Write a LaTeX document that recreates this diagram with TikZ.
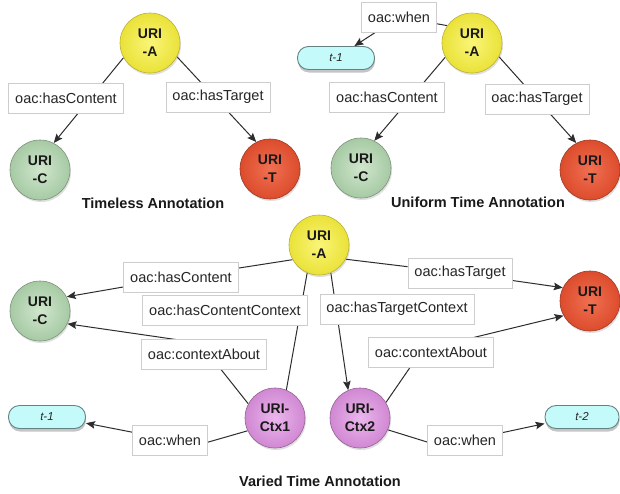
\documentclass[tikz,border=0pt]{standalone}
\usepackage{fontspec}
\setmainfont{Liberation Sans}
\usetikzlibrary{arrows.meta,shadows,backgrounds}
\definecolor{yel}{RGB}{234,226,56}
\definecolor{yelin}{RGB}{250,245,120}
\definecolor{yelbd}{RGB}{185,175,60}
\definecolor{grn}{RGB}{166,202,164}
\definecolor{grnin}{RGB}{208,230,204}
\definecolor{grnbd}{RGB}{125,145,125}
\definecolor{redc}{RGB}{220,76,44}
\definecolor{redin}{RGB}{240,112,82}
\definecolor{redbd}{RGB}{155,60,40}
\definecolor{pur}{RGB}{208,136,210}
\definecolor{purin}{RGB}{236,182,238}
\definecolor{purbd}{RGB}{145,100,145}
\definecolor{cyanc}{RGB}{196,250,250}
\definecolor{cyanbd}{RGB}{100,130,130}
\definecolor{lbd}{RGB}{205,205,205}
\definecolor{lnc}{RGB}{45,45,45}
\begin{document}
\begin{tikzpicture}[x=1pt,y=-1pt,
  ball/.style={circle, minimum size=60pt, inner sep=0pt, line width=0.6pt, align=center,
    font=\fontsize{14}{18}\selectfont\bfseries, text=black!90,
    drop shadow={opacity=0.25, shadow xshift=1pt, shadow yshift=-2pt}},
  ballA/.style={ball, draw=yelbd, inner color=yelin, outer color=yel},
  ballC/.style={ball, draw=grnbd, inner color=grnin, outer color=grn},
  ballT/.style={ball, draw=redbd, inner color=redin, outer color=redc},
  ballX/.style={ball, draw=purbd, inner color=purin, outer color=pur},
  lbl/.style={draw=lbd, line width=0.6pt, fill=white, minimum height=30pt, inner xsep=6.5pt,
    inner ysep=0pt, font=\fontsize{14.5}{17}\selectfont, text=black!85},
  pill/.style={rounded corners=11pt, draw=cyanbd, fill=cyanc, minimum width=77pt, minimum height=23pt,
    inner sep=0pt, font=\fontsize{11.5}{13}\selectfont\itshape, line width=0.9pt, text=black!85,
    drop shadow={opacity=0.45, shadow xshift=0.5pt, shadow yshift=-3pt}},
  capt/.style={font=\fontsize{14.5}{17}\selectfont\bfseries, text=black!90},
  conn/.style={draw=lnc, line width=1pt},
  arr/.style={conn, -{Stealth[length=9pt,width=7.5pt,inset=1.5pt]}},
]
\useasboundingbox (0,0) rectangle (620,493);
\begin{scope}[on background layer]
  \fill[white] (0,0) rectangle (620,493);
\end{scope}

% Timeless
\node[ballA] (A1) at (150,43) {URI\\-A};
\node[ballC] (C1) at (40,170) {URI\\-C};
\node[ballT] (T1) at (270,169) {URI\\-T};
\node[lbl] (l1c) at (66,98) {oac:hasContent};
\node[lbl] (l1t) at (218,97) {oac:hasTarget};
\node[capt] (cap1) at (153,203) {Timeless Annotation};

% Uniform
\node[ballA] (A2) at (472,43) {URI\\-A};
\node[ballC] (C2) at (361,168) {URI\\-C};
\node[ballT] (T2) at (590,170) {URI\\-T};
\node[pill] (p1) at (336,58) {t-1};
\node[lbl] (l2w) at (399,17) {oac:when};
\node[lbl] (l2c) at (387,97) {oac:hasContent};
\node[lbl] (l2t) at (537,99) {oac:hasTarget};
\node[capt] (cap2) at (478,202) {Uniform Time Annotation};

% Varied
\node[ballA] (A3) at (319,245) {URI\\-A};
\node[ballC] (C3) at (40,311) {URI\\-C};
\node[ballT] (T3) at (590,301) {URI\\-T};
\node[ballX] (X1) at (275,418) {URI-\\Ctx1};
\node[ballX] (X2) at (360,418) {URI-\\Ctx2};
\node[pill] (p2) at (47,417) {t-1};
\node[pill, minimum width=74pt] (p3) at (582,417) {t-2};
\node[lbl] (l3c) at (181,277) {oac:hasContent};
\node[lbl] (l3cc) at (225,310) {oac:hasContentContext};
\node[lbl] (l3ca) at (204,354) {oac:contextAbout};
\node[lbl] (l3w1) at (170,440) {oac:when};
\node[lbl] (l3t) at (460,273) {oac:hasTarget};
\node[lbl] (l3tc) at (397,309) {oac:hasTargetContext};
\node[lbl] (l3cb) at (431,352) {oac:contextAbout};
\node[lbl] (l3w2) at (465,440) {oac:when};
\node[capt] (cap3) at (320,481) {Varied Time Annotation};

\coordinate (w1) at (200,343);
\coordinate (w2) at (422,350);
\coordinate (w3) at (198,445);
\coordinate (w4) at (440,446);

\begin{scope}[on background layer]
  \draw[arr] (A1.209) -- (C1.63);
  \draw[arr] (A1.333) -- (T1.117);
  \draw[arr] (A2.208) -- (C2.64);
  \draw[arr] (A2.333) -- (T2.117);
  \draw[arr] (A2.145) -- (l2w) -- (p1);
  \draw[arr] (A3.209) -- (l3c) -- (C3.28);
  \draw[conn] (A3.247) -- (X1.68);
  \draw[arr] (A3.293) -- (X2.113);
  \draw[arr] (A3.332) -- (l3t) -- (T3.154);
  \draw[arr] (X1.152) -- (w1) -- (C3.335);
  \draw[arr] (X2.31) -- (w2) -- (T3.209);
  \draw[arr] (X1.205) -- (w3) -- (p2.-9);
  \draw[arr] (X2.337) -- (w4) -- (p3.190);
\end{scope}
\end{tikzpicture}
\end{document}
